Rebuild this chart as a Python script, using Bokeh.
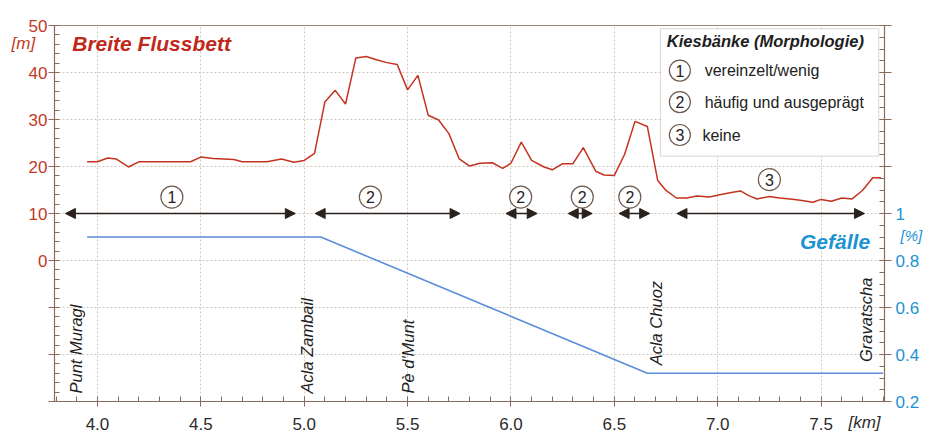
import numpy as np
from bokeh.plotting import figure
from bokeh.models import (Range1d, LinearAxis, FixedTicker, ColumnDataSource, Arrow,
                          NormalHead, Label, BoxAnnotation, CustomJSTickFormatter)
from bokeh.embed import file_html
from bokeh.resources import INLINE
from bokeh.core.properties import value

# ---------------- data ----------------
km = [3.95, 4.00, 4.05, 4.09, 4.15, 4.20, 4.34, 4.45, 4.50, 4.56, 4.66, 4.70, 4.82, 4.89,
      4.95, 5.00, 5.05, 5.10, 5.15, 5.20, 5.25, 5.30, 5.35, 5.40, 5.45, 5.50, 5.55, 5.60,
      5.65, 5.70, 5.75, 5.80, 5.85, 5.91, 5.96, 6.00, 6.05, 6.10, 6.16, 6.20, 6.25, 6.30,
      6.35, 6.41, 6.45, 6.50, 6.55, 6.60, 6.66, 6.71, 6.75, 6.80, 6.85, 6.90, 6.96, 7.01,
      7.06, 7.11, 7.15, 7.19, 7.25, 7.30, 7.35, 7.40, 7.46, 7.50, 7.55, 7.60, 7.65, 7.70,
      7.75, 7.79]
breite = [21.0, 21.0, 21.8, 21.6, 19.9, 21.0, 21.0, 21.0, 22.0, 21.7, 21.5, 21.0, 21.0, 21.6,
          20.9, 21.3, 22.8, 33.7, 36.2, 33.3, 43.1, 43.4, 42.7, 42.1, 41.7, 36.3, 39.4, 30.9,
          29.9, 27.0, 21.6, 20.1, 20.7, 20.8, 19.6, 20.7, 25.2, 21.3, 19.9, 19.3, 20.6, 20.6,
          24.0, 19.0, 18.2, 18.1, 22.6, 29.6, 28.5, 17.0, 14.9, 13.3, 13.3, 13.7, 13.5, 14.0,
          14.4, 14.8, 13.8, 13.1, 13.6, 13.3, 13.1, 12.8, 12.4, 13.0, 12.6, 13.3, 13.1, 14.9,
          17.6, 17.6]

gef_km = [3.95, 5.08, 6.66, 7.80]
gefaelle = [0.90, 0.90, 0.32, 0.32]

sec_start = [3.845, 5.053, 5.976, 6.277, 6.523, 6.803]
sec_end = [4.957, 5.754, 6.127, 6.393, 6.671, 7.710]
sec_class = ["1", "2", "2", "2", "2", "3"]

loc_names = ["Punt Muragl", "Acla Zambail", "Pè d'Munt", "Acla Chuoz", "Gravatscha"]
loc_km = [3.894, 5.013, 5.504, 6.703, 7.718]

leg_num = ["1", "2", "3"]
leg_text = ["vereinzelt/wenig", "häufig und ausgeprägt", "keine"]

left_ticks = [-30, -20, -10, 0, 10, 20, 30, 40, 50]
right_ticks = [0.2, 0.4, 0.6, 0.8, 1.0, 1.2, 1.4, 1.6, 1.8]
x_ticks = [4.0, 4.5, 5.0, 5.5, 6.0, 6.5, 7.0, 7.5]

# ---------------- layout (positions / styles) ----------------
sec_label_x = [4.36, 5.32, 6.047, 6.345, 6.575, 7.25]
sec_label_y = [13.5, 13.5, 13.5, 13.5, 13.5, 17.2]
loc_y = [-28.3, -28.3, -28.3, -22.3, -21.6]
leg_circle_x = 6.817
leg_text_x = [6.937, 6.937, 6.926]
leg_y = [40.4, 33.7, 26.7]
ARROW_LEVEL = 10
W, H = 944, 432

FONT = "Liberation Sans"
RED = "#c4331f"
RED_TXT = "#c23a26"
BLUE_TXT = "#1b93d3"
BLUE_LINE = "#5a8ed8"
BROWN = "#8a6a58"
DARK = "#2a211c"
GRID = "#cfc8c0"

p = figure(width=W, height=H, x_range=Range1d(3.7923, 7.8068), y_range=Range1d(-30, 50),
           output_backend="svg", toolbar_location=None,
           min_border_left=54, min_border_right=59, min_border_top=25, min_border_bottom=31)
p.extra_y_ranges = {"gef": Range1d(0.2, 1.8)}
p.background_fill_color = "white"
p.border_fill_color = "white"
p.outline_line_color = "#a08878"
p.outline_line_width = 1

# axes
xt = FixedTicker(ticks=x_ticks, minor_ticks=list(np.round(np.arange(3.8, 7.81, 0.1), 2)))
lt = FixedTicker(ticks=left_ticks, minor_ticks=list(range(-30, 51, 2)))
rt = FixedTicker(ticks=right_ticks, minor_ticks=list(np.round(np.arange(0.2, 1.801, 0.05), 3)))

xa = p.xaxis[0]
xa.ticker = xt
xa.formatter = CustomJSTickFormatter(code="return tick.toFixed(1);")
ya = p.yaxis[0]
ya.ticker = lt
ya.formatter = CustomJSTickFormatter(code="return tick < 0 ? '' : tick.toFixed(0);")
ra = LinearAxis(y_range_name="gef", ticker=rt,
                formatter=CustomJSTickFormatter(code="if (tick > 1.001) return ''; if (Math.abs(tick-1)<1e-6) return '1'; return tick.toFixed(1);"))
p.add_layout(ra, "right")

for ax in (xa, ya, ra):
    ax.axis_line_color = BROWN
    ax.axis_line_width = 1.2
    ax.major_tick_line_color = BROWN
    ax.minor_tick_line_color = BROWN
    ax.major_tick_in = 0
    ax.major_tick_out = 6
    ax.minor_tick_in = 5
    ax.minor_tick_out = 0
    ax.major_label_text_font = FONT
    ax.major_label_text_font_size = "17px"
    ax.major_label_standoff = 1
xa.major_label_text_color = "#2b2b2b"
ya.major_label_text_color = RED_TXT
ra.major_label_text_color = BLUE_TXT
ra.major_tick_out = 7
ra.major_label_standoff = 4
xa.major_label_standoff = 11
xa.major_tick_out = 5

p.xgrid.ticker = xt
p.ygrid.ticker = lt
for g in (p.xgrid[0], p.ygrid[0]):
    g.grid_line_color = GRID
    g.grid_line_dash = "2 2"
    g.grid_line_width = 1

# legend box (underlay so that it covers the grid)
box = BoxAnnotation(left=6.723, right=7.779, top=49.3, bottom=22.2, fill_color="white",
                    fill_alpha=1, line_color="#8a7a70", line_width=1, level="underlay")
p.add_layout(box)

# lines
p.line(km, breite, line_color=RED, line_width=1.5)
p.line(gef_km, gefaelle, y_range_name="gef", line_color=BLUE_LINE, line_width=1.6)

# section arrows
src = ColumnDataSource(dict(x0=sec_start, x1=sec_end, y=[ARROW_LEVEL] * len(sec_start)))
p.add_layout(Arrow(x_start="x0", y_start="y", x_end="x1", y_end="y", source=src,
                   line_color=DARK, line_width=1.5,
                   start=NormalHead(size=10, fill_color=DARK, line_color=DARK),
                   end=NormalHead(size=10, fill_color=DARK, line_color=DARK)))

# section circled numbers
p.scatter(sec_label_x, sec_label_y, marker="circle", size=22, fill_color="white",
          line_color="#6e5a4e", line_width=1.2)
p.text(sec_label_x, sec_label_y, text=sec_class, text_align="center", text_baseline="middle",
       text_font=value(FONT), text_font_size="16px", text_color=DARK)

# location names
p.text(loc_km, loc_y, text=loc_names, angle=np.pi / 2, text_align="left",
       text_baseline="middle", text_font=value(FONT), text_font_style="italic",
       text_font_size="16.5px", text_color="#1e1e1e")

# legend contents
p.scatter([leg_circle_x] * 3, leg_y, marker="circle", size=21, fill_color="white",
          line_color="#6e5a4e", line_width=1.2)
p.text([leg_circle_x] * 3, leg_y, text=leg_num, text_align="center", text_baseline="middle",
       text_font=value(FONT), text_font_size="16px", text_color=DARK)
p.text(leg_text_x, leg_y, text=leg_text, text_align="left", text_baseline="middle",
       text_font=value(FONT), text_font_size="16px", text_color="#222222")
p.add_layout(Label(x=6.754, y=46.66, text="Kiesbänke (Morphologie)", text_align="left",
                   text_baseline="middle", text_font=FONT, text_font_style="bold italic",
                   text_font_size="16.5px", text_color="#1e1e1e"))

# titles
p.add_layout(Label(x=3.878, y=46.1, text="Breite Flussbett", text_align="left",
                   text_baseline="middle", text_font=FONT, text_font_style="bold italic",
                   text_font_size="21px", text_color="#c0281a"))
p.add_layout(Label(x=7.737, y=4.04, text="Gefälle", text_align="right", text_baseline="middle",
                   text_font=FONT, text_font_style="bold italic", text_font_size="21px",
                   text_color=BLUE_TXT))

# unit labels outside the frame: placed in side panels (not clipped), data coordinates
p.add_layout(Label(x=3.642, y=46.2, text="[m]", text_align="center", text_baseline="middle",
                   text_font=FONT, text_font_style="italic", text_font_size="17px",
                   text_color=RED_TXT), "left")
p.add_layout(Label(x=7.937, y=5.3, text="[%]", text_align="center", text_baseline="middle",
                   text_font=FONT, text_font_style="italic", text_font_size="15px",
                   text_color=BLUE_TXT), "right")
p.add_layout(Label(x=7.710, y=-34.4, text="[km]", text_align="center", text_baseline="middle",
                   text_font=FONT, text_font_style="italic", text_font_size="17px",
                   text_color="#2b2b2b"), "above")

open("out.html", "w").write(file_html(p, INLINE))
